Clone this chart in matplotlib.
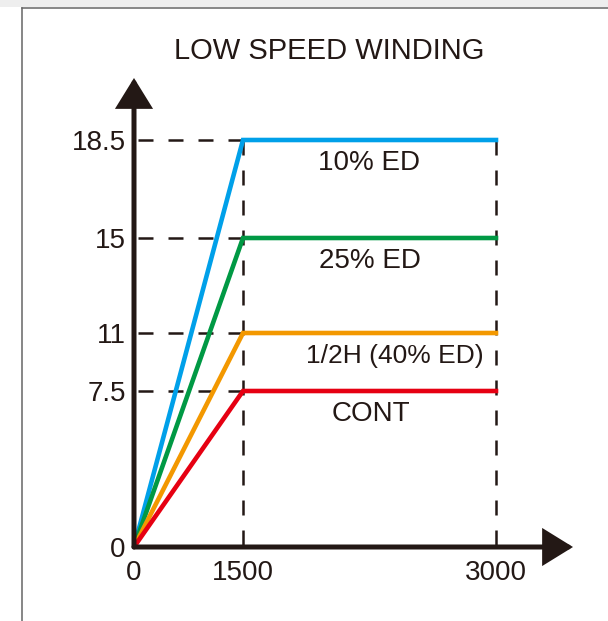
import numpy as np
import matplotlib
matplotlib.use('Agg')
import matplotlib.pyplot as plt
from matplotlib.lines import Line2D

plt.rcParams['font.family'] = ['Liberation Sans', 'DejaVu Sans']

# data
speed_ticks = [0, 1500, 3000]
torque_ticks = [0, 7.5, 11, 15, 18.5]
torque_labels = ['0', '7.5', '11', '15', '18.5']
curve_names = ['10% ED', '25% ED', '1/2H (40% ED)', 'CONT']
curve_levels = [18.5, 15, 11, 7.5]
curve_speed = [0, 1500, 3000]
colors = ['#00a0e9', '#009944', '#f39800', '#e60012']
label_dx = [0, 0, 18, 1]        # points, horizontal nudge of curve labels
label_size = [20, 20, 19, 20]   # the long label is set a little tighter

ink = '#231815'

# the drawing is schematic: axes are not linear, so use piecewise scales
x_anchor = ([0, 1500, 3000], [0, 109, 362])
y_anchor = ([0, 7.5, 11, 15, 18.5], [0, 156, 214, 309, 407])


def piecewise(v, p):
    v = np.asarray(v, float)
    p = np.asarray(p, float)

    def f(x):
        x = np.asarray(x, float)
        out = np.interp(x, v, p)
        lo = x < v[0]
        hi = x > v[-1]
        out = np.where(lo, p[0] + (x - v[0]) * (p[1] - p[0]) / (v[1] - v[0]), out)
        out = np.where(hi, p[-1] + (x - v[-1]) * (p[-1] - p[-2]) / (v[-1] - v[-2]), out)
        return out
    return f


fx, ix = piecewise(*x_anchor), piecewise(x_anchor[1], x_anchor[0])
fy, iy = piecewise(*y_anchor), piecewise(y_anchor[1], y_anchor[0])

W, H = 608, 621
fig = plt.figure(figsize=(W / 100, H / 100), dpi=100)

# frame of the original page
fig.add_artist(plt.Rectangle((0, 1 - 7 / H), 1, 7 / H, transform=fig.transFigure,
                             color='#eeeeee', lw=0))
fig.add_artist(Line2D([22 / W, 22 / W], [0, 1 - 8 / H], transform=fig.transFigure,
                      color='#666666', lw=1.1))
fig.add_artist(Line2D([22 / W, 1], [1 - 8 / H, 1 - 8 / H], transform=fig.transFigure,
                      color='#666666', lw=1.1))

ax = fig.add_axes([134 / W, 74 / H, 439 / W, 469 / H])
ax.set_xscale('function', functions=(fx, ix))
ax.set_yscale('function', functions=(fy, iy))
ax.set_xlim(0, float(ix(439)))
ax.set_ylim(0, float(iy(469)))
ax.patch.set_visible(False)
for s in ax.spines.values():
    s.set_visible(False)

# dashed guides
top = max(curve_levels)
dash = dict(color=ink, lw=1.8, linestyle=(0, (6.0, 6.0)), zorder=1)
for lv in curve_levels:
    ax.plot([curve_speed[1], 0], [lv, lv], **dash)
for sp in curve_speed[1:]:
    ax.plot([sp, sp], [top, 0], **dash)

# curves
for name, lv, c, dx, fs in zip(curve_names, curve_levels, colors, label_dx, label_size):
    ax.plot(curve_speed, [0, lv, lv], color=c, lw=3.3, solid_joinstyle='miter', zorder=3)
    mid = (curve_speed[1] + curve_speed[2]) / 2
    ax.annotate(name, (mid, lv), xytext=(dx, -16.5), textcoords='offset points',
                ha='center', va='center', fontsize=fs, color=ink)

# axes with arrow heads
arrow = dict(arrowstyle='-|>,head_length=17,head_width=10.5', color=ink, lw=3.6,
             shrinkA=0, shrinkB=0, mutation_scale=1, joinstyle='miter')
ax.annotate('', xy=(1, 0), xytext=(0, 0), xycoords='axes fraction', arrowprops=arrow,
            zorder=5)
ax.annotate('', xy=(0, 1), xytext=(0, 0), xycoords='axes fraction', arrowprops=arrow,
            zorder=5)

ax.set_xticks(speed_ticks, [str(s) for s in speed_ticks])
ax.set_yticks(torque_ticks, torque_labels)
ax.tick_params(length=0, labelsize=20, labelcolor=ink)
ax.tick_params(axis='x', pad=9)
ax.tick_params(axis='y', pad=6)
ax.minorticks_off()

fig.text(329 / W, 1 - 51 / H, 'LOW SPEED WINDING', ha='center', va='center',
         fontsize=21, color=ink)

fig.savefig('out.png', dpi=100)
